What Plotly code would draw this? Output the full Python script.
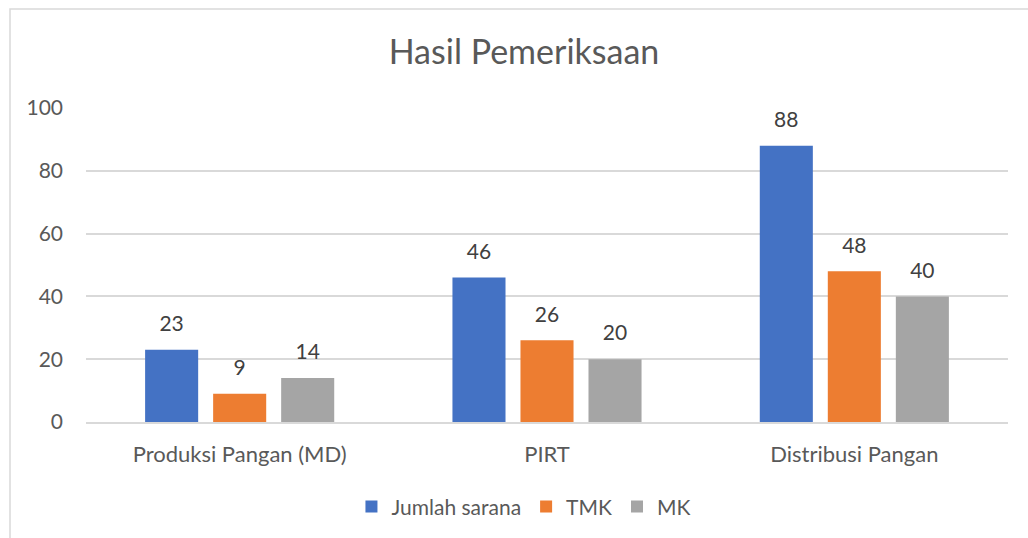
import plotly.graph_objects as go

categories = ["Produksi Pangan (MD)", "PIRT", "Distribusi Pangan"]
jumlah_sarana = [23, 46, 88]
tmk = [9, 26, 48]
mk = [14, 20, 40]
series_names = ["Jumlah sarana", "TMK", "MK"]
colors = ["#4472C4", "#ED7D31", "#A5A5A5"]
y_ticks = [0, 20, 40, 60, 80, 100]

FONT = "Lato"
TXT = "#595959"
FS = 21
GAP = 0.336

fig = go.Figure()
for name, vals, col in zip(series_names, [jumlah_sarana, tmk, mk], colors):
    fig.add_trace(go.Bar(
        name=name, x=categories, y=vals, marker=dict(color=col, line=dict(width=0)),
        hoverinfo="skip", offsetgroup=name,
    ))
for name, vals in zip(series_names, [jumlah_sarana, tmk, mk]):
    fig.add_trace(go.Scatter(
        x=categories, y=vals, mode="markers+text", text=[str(v) for v in vals],
        textposition="top center", cliponaxis=False, showlegend=False,
        marker=dict(size=20, opacity=0), offsetgroup=name,
        textfont=dict(family=FONT, size=FS, color="#404040"), hoverinfo="skip",
    ))

fig.update_layout(
    width=1028, height=538,
    margin=dict(l=86, r=20, t=108, b=116, autoexpand=False),
    paper_bgcolor="white", plot_bgcolor="white",
    barmode="group", bargap=GAP, bargroupgap=0.22,
    scattermode="group", scattergap=GAP,
    title=dict(text="Hasil Pemeriksaan", x=524 / 1028, xref="container", xanchor="center",
               y=(538 - 52) / 538, yanchor="middle",
               font=dict(family=FONT, size=34, color="#595959")),
    font=dict(family=FONT, color=TXT),
    showlegend=True,
    legend=dict(orientation="h", x=0.475, xanchor="center", y=-0.27, yanchor="middle",
                font=dict(family=FONT, size=FS, color=TXT), traceorder="normal",
                itemwidth=30),
)
fig.update_xaxes(showgrid=False, showline=True, linecolor="#D9D9D9", linewidth=1.5,
                 ticks="", tickfont=dict(family=FONT, size=22, color=TXT),
                 ticklabelstandoff=12, automargin=False)
fig.update_yaxes(range=[0, 100], tickvals=y_ticks, showgrid=True, gridcolor="#D9D9D9",
                 gridwidth=1.5, zeroline=False, showline=False, ticks="",
                 tickfont=dict(family=FONT, size=FS, color=TXT),
                 ticklabelstandoff=22, automargin=False)

# chart frame
fig.add_shape(type="rect", xref="paper", yref="paper",
              x0=(10 - 86) / 922, x1=(1040 - 86) / 922,
              y0=(422 - 560) / 314, y1=(422 - 9) / 314,
              line=dict(color="#D9D9D9", width=1.5), layer="below")

fig.write_html("out.html", config={"displayModeBar": False},
               post_script="document.body.style.margin='0';")
